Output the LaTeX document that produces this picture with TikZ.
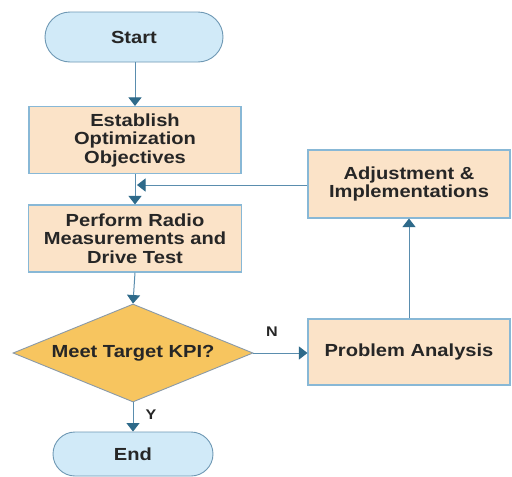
\documentclass[tikz,border=0pt]{standalone}
\usepackage{fontspec}
\setmainfont{Liberation Sans}
\newfontfamily\flowfont[FakeStretch=1.15]{Liberation Sans}
\usetikzlibrary{shapes.geometric,shapes.misc,arrows.meta}
\definecolor{termfill}{HTML}{D1EAF8}
\definecolor{termline}{HTML}{6E98B4}
\definecolor{procfill}{HTML}{FBE3C8}
\definecolor{procline}{HTML}{88B8D6}
\definecolor{decfill}{HTML}{F7C55F}
\definecolor{decline}{HTML}{8A9AA8}
\definecolor{flowline}{HTML}{5A8DAE}
\definecolor{tipcol}{HTML}{2E6A8A}
\tikzset{
  base/.style={font=\flowfont\bfseries\fontsize{17.5}{18.5}\selectfont, text=black!85, align=center, inner sep=0pt},
  term/.style={base, rounded rectangle, draw=termline, line width=0.9pt, fill=termfill},
  procbox/.style={base, rectangle, draw=procline, line width=1.1pt, fill=procfill},
  decision/.style={base, diamond, draw=decline, line width=0.9pt, fill=decfill},
  flow/.style={draw=flowline, line width=1pt, -{Triangle[width=13pt,length=8.5pt,color=tipcol,fill=tipcol]}},
  lbl/.style={font=\flowfont\bfseries\fontsize{14}{16}\selectfont, text=black!85, inner sep=0pt}
}
\begin{document}
\begin{tikzpicture}[x=1pt,y=-1pt]
  \useasboundingbox (0,0) rectangle (512,477);
  \fill[white] (0,0) rectangle (512,477);

  % terminals, steps and the decision
  \node[term, minimum width=178pt, minimum height=50pt] (start) at (134,37) {Start};
  \node[procbox, minimum width=212pt, minimum height=67pt] (estab) at (135,140)
    {Establish\\Optimization\\Objectives};
  \node[procbox, minimum width=213pt, minimum height=67pt] (perf) at (135,238.5)
    {Perform Radio\\Measurements and\\Drive Test};
  \node[decision, minimum width=240pt, minimum height=98pt, aspect=2.45] (dec) at (133,353)
    {Meet Target KPI?};
  \node[term, minimum width=160pt, minimum height=44pt] (fin) at (133,454) {End};
  \node[procbox, minimum width=202pt, minimum height=68pt] (adj) at (409,184)
    {Adjustment \&\\Implementations};
  \node[procbox, minimum width=202pt, minimum height=66pt] (prob) at (409,352)
    {Problem Analysis};

  % main flow
  \draw[flow] (start.south -| estab.north) -- (estab.north);
  \draw[flow] (estab.south) -- (perf.north);
  \draw[flow] (perf.south) -- (dec.north);
  \draw[flow] (dec.south) -- (fin.north -| dec.south);

  % loop back through analysis and adjustment
  \coordinate (join) at (137,185);
  \draw[flow] (dec.east) -- (prob.west |- dec.east);
  \draw[flow] (prob.north) -- (adj.south);
  \draw[flow] (adj.west |- join) -- (join);

  % branch labels
  \node[lbl] (ylab) at (151,415) {Y};
  \node[lbl] (nlab) at (272,332) {N};
\end{tikzpicture}
\end{document}
